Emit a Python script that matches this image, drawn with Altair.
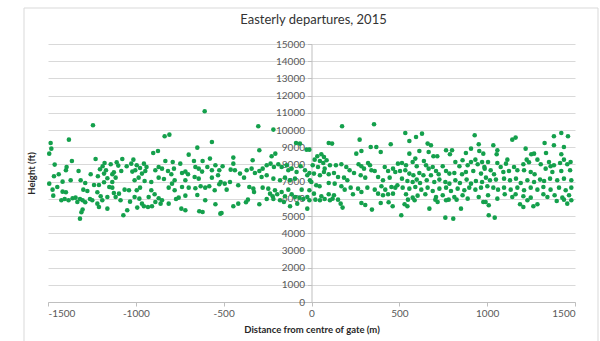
import altair as alt
import pandas as pd

# Departure tracks crossing the gate: (distance from centre of gate in m, height in ft)
west_far = [
    (-1244, 10273), (-1381, 9440), (-1485, 9246), (-1481, 8917), (-1493, 8626), (-1364, 8200),
    (-1462, 7987), (-1394, 7851), (-1398, 7657), (-1229, 8316), (-1178, 8083), (-1189, 7890),
    (-1204, 7715), (-1143, 8006), (-1109, 8122), (-1077, 8316), (-1100, 7929), (-1125, 7541),
    (-1170, 7657), (-1181, 7464), (-1216, 7308), (-1257, 7425), (-1326, 7618), (-1314, 7076),
    (-1371, 7076), (-1417, 6998), (-1439, 7425), (-1466, 7308), (-1493, 6882), (-1474, 6533),
    (-1447, 6688), (-1470, 6184), (-1417, 6417), (-1398, 6378), (-1424, 5913), (-1405, 5990),
    (-1383, 5913), (-1360, 6029), (-1343, 6068), (-1333, 5816), (-1318, 5990), (-1303, 5913),
    (-1299, 6533), (-1276, 6455), (-1303, 5371), (-1310, 5215), (-1318, 4847), (-1288, 5797),
    (-1261, 5990), (-1248, 5913), (-1219, 6378), (-1219, 5719), (-1210, 5525), (-1191, 5913),
    (-1200, 6145), (-1162, 6107), (-1162, 5428), (-1134, 6649), (-1125, 6339), (-1115, 6107),
    (-1151, 6688), (-1181, 6959), (-1210, 6804), (-1238, 6804), (-1288, 6921), (-1162, 7192),
    (-1134, 6979), (-1096, 6300), (-1087, 5913), (-1071, 5041), (-1049, 5332), (-1064, 6533),
    (-1039, 6494), (-1033, 5835), (-1052, 7890), (-1026, 8045), (-1020, 7580), (-1083, 7618),
    (-1115, 7231), (-1134, 7425),
]
west_mid = [
    (-608, 11087), (-836, 9634), (-809, 9731), (-567, 9305), (-650, 8975), (-874, 8781),
    (-901, 8665), (-699, 8568), (-1014, 8277), (-995, 7948), (-976, 7793), (-1003, 7657),
    (-954, 8045), (-939, 7851), (-946, 7618), (-965, 7464), (-984, 7231), (-1007, 7076),
    (-832, 8200), (-790, 8142), (-747, 8045), (-669, 8200), (-620, 8200), (-578, 8336),
    (-870, 7851), (-851, 7754), (-889, 7657), (-817, 7618), (-798, 7425), (-783, 7754),
    (-737, 7502), (-718, 7580), (-703, 7425), (-661, 7851), (-642, 7754), (-623, 7580),
    (-593, 7851), (-567, 7657), (-547, 7948), (-525, 7657), (-532, 7366), (-567, 7231),
    (-642, 7172), (-665, 7270), (-718, 7076), (-779, 7076), (-794, 6882), (-840, 7153),
    (-870, 7231), (-912, 6979), (-950, 7037), (-976, 6649), (-995, 6494), (-1007, 6107),
    (-980, 6010), (-965, 5719), (-927, 6107), (-912, 6494), (-893, 6261), (-870, 6029),
    (-851, 5913), (-859, 5719), (-889, 5816), (-931, 5525), (-954, 5564), (-992, 5487),
    (-813, 6649), (-779, 6494), (-737, 6688), (-699, 6649), (-661, 6610), (-631, 6727),
    (-605, 6649), (-582, 6727), (-551, 6494), (-525, 6843), (-756, 6068), (-771, 5990),
    (-718, 6184), (-650, 6223), (-605, 5913), (-547, 5680), (-813, 5719), (-741, 5428),
    (-718, 5332), (-639, 5273), (-620, 5235), (-519, 5138), (-908, 5564),
]
west_near = [
    (-303, 10215), (-217, 10022), (-297, 8820), (-88, 9246), (-66, 9208), (-28, 8859),
    (-206, 8626), (-227, 8471), (-445, 8394), (-335, 8239), (-506, 7890), (-445, 8045),
    (-460, 7696), (-436, 7657), (-407, 7464), (-384, 7231), (-369, 7657), (-341, 7754),
    (-322, 7502), (-297, 7618), (-278, 7754), (-255, 7948), (-233, 8045), (-214, 7851),
    (-189, 8006), (-170, 7851), (-141, 7948), (-132, 7657), (-113, 7754), (-85, 7560),
    (-62, 7890), (-37, 7657), (-24, 7366), (-255, 7366), (-284, 7270), (-217, 7172),
    (-179, 7076), (-151, 7231), (-123, 7076), (-94, 7172), (-517, 6979), (-494, 6882),
    (-464, 6979), (-417, 6785), (-354, 6688), (-331, 6591), (-327, 6397), (-278, 6649),
    (-246, 6591), (-236, 6300), (-221, 6145), (-208, 6494), (-195, 6261), (-170, 6397),
    (-151, 6145), (-132, 6533), (-113, 6261), (-94, 6107), (-69, 6068), (-47, 5990),
    (-24, 6107), (-56, 6533), (-81, 5719), (-122, 5564), (-157, 5816), (-179, 5913),
    (-217, 5990), (-255, 5990), (-362, 5951), (-373, 5797), (-417, 5719), (-445, 5564),
    (-512, 5177), (-297, 5680), (-24, 5428), (-483, 6533), (-9, 7076),
]
east_near = [
    (174, 10215), (356, 10332), (274, 9440), (98, 9246), (117, 9208), (451, 9169),
    (337, 9014), (369, 9014), (284, 8781), (255, 8626), (394, 8723), (-12, 8859),
    (33, 8471), (56, 8587), (71, 8432), (18, 8277), (48, 8200), (67, 8083), (86, 8239),
    (7, 7948), (37, 7851), (75, 7754), (105, 7948), (139, 7948), (170, 8006), (198, 7851),
    (217, 7657), (242, 7502), (268, 8006), (284, 7890), (299, 7754), (322, 8083),
    (333, 7948), (341, 7657), (360, 7618), (417, 7851), (436, 7618), (464, 7754),
    (477, 7560), (-12, 7502), (14, 7464), (48, 7366), (71, 7560), (98, 7425), (128, 7502),
    (151, 7270), (185, 7231), (204, 7076), (280, 7366), (306, 7231), (379, 7270),
    (407, 7076), (445, 7231), (-1, 6979), (27, 6785), (46, 6727), (98, 6921), (132, 6882),
    (170, 6727), (189, 6533), (223, 6649), (265, 6591), (284, 6397), (318, 6649),
    (360, 6533), (398, 6727), (420, 6533), (455, 6688), (477, 6649), (-12, 6494),
    (14, 6300), (56, 6145), (98, 6261), (128, 6203), (151, 5951), (236, 6261), (379, 6300),
    (407, 6203), (436, 6261), (464, 6300), (-12, 5913), (22, 5951), (48, 5913), (75, 5990),
    (105, 5913), (120, 6010), (166, 5719), (177, 5487), (284, 5758), (306, 5642),
    (344, 5371), (394, 5758), (439, 5797), (462, 5564),
]
east_mid = [
    (534, 9828), (595, 9595), (629, 9789), (557, 9363), (929, 9692), (952, 9169),
    (661, 9208), (680, 9111), (766, 8820), (800, 8820), (908, 8917), (614, 8781),
    (557, 8626), (667, 8723), (694, 8471), (716, 8471), (788, 8587), (879, 8665),
    (955, 8781), (978, 8626), (492, 8045), (515, 8083), (538, 7948), (576, 8142),
    (591, 8336), (599, 7890), (640, 8200), (652, 7948), (667, 7754), (690, 7851),
    (709, 7618), (747, 7890), (766, 7618), (819, 8142), (842, 7890), (860, 8239),
    (889, 7948), (908, 8142), (933, 8277), (946, 8006), (971, 8142), (984, 7851),
    (504, 7618), (534, 7657), (557, 7464), (580, 7366), (614, 7502), (637, 7366),
    (680, 7366), (724, 7425), (785, 7464), (813, 7502), (857, 7425), (879, 7560),
    (921, 7618), (965, 7464), (515, 7172), (546, 7037), (576, 6979), (599, 7115),
    (618, 6921), (656, 7076), (699, 6979), (728, 7115), (762, 6979), (785, 6882),
    (819, 7076), (845, 6921), (883, 7115), (908, 6882), (936, 7037), (971, 6979),
    (489, 6785), (519, 6649), (557, 6591), (591, 6688), (625, 6533), (661, 6649),
    (690, 6455), (728, 6591), (766, 6649), (794, 6455), (832, 6591), (870, 6494),
    (898, 6649), (933, 6533), (965, 6649), (538, 6261), (576, 6068), (604, 6184),
    (648, 6261), (709, 6107), (747, 6203), (781, 5951), (813, 6107), (860, 6203),
    (889, 6010), (952, 6107), (549, 5951), (587, 5913), (530, 5680), (546, 5564),
    (705, 5951), (718, 5816), (766, 5913), (826, 5951), (978, 5816), (671, 5428),
    (851, 5428), (511, 5041), (762, 4905), (807, 4847),
]
east_far = [
    (1422, 9828), (1380, 9634), (1460, 9634), (1162, 9557), (1143, 9440), (1035, 9111),
    (1327, 9246), (1380, 9111), (1219, 8917), (1437, 9014), (1058, 8820), (1267, 8626),
    (1251, 8587), (1335, 8665), (1422, 8587), (1054, 8587), (1115, 8277), (1005, 8142),
    (1058, 8083), (1107, 8045), (1153, 7851), (1172, 7657), (1206, 8006), (1225, 8277),
    (1238, 8122), (1286, 8277), (1305, 8006), (1352, 8142), (1361, 7890), (1380, 7948),
    (1415, 8083), (1437, 8277), (1456, 8006), (1475, 8142), (986, 7754), (1020, 7657),
    (1039, 7425), (1077, 7851), (1092, 7560), (1124, 7618), (1210, 7657), (1248, 7560),
    (1270, 7425), (1333, 7754), (1371, 7560), (1422, 7618), (1472, 7657), (993, 7231),
    (1016, 7076), (1050, 7115), (1096, 7172), (1130, 7076), (1164, 7172), (1191, 6921),
    (1229, 7076), (1267, 6979), (1301, 7115), (1324, 7037), (1358, 7172), (1399, 7076),
    (1437, 7172), (1479, 7076), (1001, 6727), (1035, 6649), (1062, 6533), (1096, 6649),
    (1134, 6533), (1172, 6649), (1210, 6494), (1248, 6649), (1286, 6533), (1320, 6688),
    (1361, 6533), (1409, 6649), (1447, 6494), (1479, 6649), (1005, 6203), (1058, 6010),
    (1100, 6261), (1143, 6107), (1162, 6261), (1206, 6145), (1248, 6068), (1320, 6261),
    (1343, 6107), (1384, 6203), (1428, 6068), (1466, 6203), (991, 5816), (1009, 5622),
    (1187, 5680), (1206, 5525), (1229, 5913), (1263, 5564), (1286, 5680), (1396, 5874),
    (1437, 5951), (1456, 5719), (1479, 5913), (1009, 5041), (1043, 4905),
]

x_ticks = [-1500, -1000, -500, 0, 500, 1000, 1500]
y_ticks = list(range(0, 16000, 1000))
chart_title = "Easterly departures, 2015"

tracks = west_far + west_mid + west_near + east_near + east_mid + east_far
df = pd.DataFrame(tracks, columns=["distance", "height"])

W, H = 527, 258          # plot area
FONT = "Lato"
GREY_TXT = "#595959"
GRID = "#d9d9d9"
AXIS = "#bfbfbf"

points = alt.Chart(df).mark_circle(size=21, color="#14a04c", opacity=1).encode(
    x=alt.X(
        "distance:Q",
        scale=alt.Scale(domain=[-1500, 1500], nice=False, zero=False),
        axis=alt.Axis(
            values=x_ticks, grid=False, title="Distance from centre of gate (m)",
            labelExpr="'' + datum.value",
            domainColor=AXIS, tickColor=AXIS, tickSize=4, labelPadding=2,
            labelColor=GREY_TXT, labelFontSize=10, labelFont=FONT,
            titleFont=FONT, titleFontSize=9.5, titleFontWeight="bold",
            titleColor="#262626", titlePadding=6,
        ),
    ),
    y=alt.Y(
        "height:Q",
        scale=alt.Scale(domain=[0, 15000], nice=False),
        axis=alt.Axis(
            values=y_ticks, grid=True, gridColor=GRID, offset=-W / 2,
            labelExpr="'' + datum.value",
            domainColor=AXIS, tickColor=AXIS, tickSize=4, labelPadding=3,
            labelColor=GREY_TXT, labelFontSize=10, labelFont=FONT,
            title="Height (ft)", titleX=-W / 2 - 12, titleY=H / 2,
            titleFont=FONT, titleFontSize=9.5, titleFontWeight="bold",
            titleColor="#262626",
        ),
    ),
)

one_row = pd.DataFrame({"f": [0]})

frame = alt.Chart(one_row).mark_rect(
    fill=None, stroke="#d9d9d9", strokeWidth=1
).encode(
    x=alt.value(-24), x2=alt.value(W + 23), y=alt.value(-36), y2=alt.value(H + 60)
)

title = alt.Chart(one_row).mark_text(
    font=FONT, fontSize=13, color="#333333", baseline="middle", align="center"
).encode(x=alt.value(W / 2 + 2), y=alt.value(-24), text=alt.value(chart_title))

chart = (
    alt.layer(frame, points, title)
    .properties(
        width=W,
        height=H,
        autosize=alt.AutoSizeParams(type="none"),
        padding={"left": 48, "top": 44, "right": 25, "bottom": 39},
        background="white",
    )
    .configure_view(stroke=None)
)

chart.save("out.html", embed_options={"renderer": "svg", "actions": False})
